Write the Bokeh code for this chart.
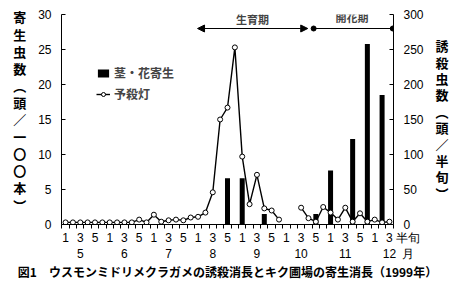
import math
from bokeh.plotting import figure
from bokeh.models import (Range1d, LinearAxis, FixedTicker, Label, Arrow, NormalHead,
                          Legend, LegendItem)
from bokeh.embed import file_html
from bokeh.resources import INLINE

# ---- data ----
months = ["5", "6", "7", "8", "9", "10", "11", "12"]
n_periods = 45  # May 1st half-decade ... Dec 3rd
nan = float("nan")
# light-trap catch (heads / half-decade), right axis
trap = [3, 3, 3, 3, 3, 3,
        3, 3, 3, 3, 7, 3,
        14, 4, 6, 7, 6, 10,
        11, 17, 46, 150, 167, 253,
        97, 29, 71, 23, 20, 7,
        nan, nan, 24, 9, 4, 25,
        17, 7, 24, 4, 16, 4,
        7, 3, 4]
# parasitism on stems/flowers (heads / 100 plants), left axis
parasite = [0, 0, 0, 0, 0, 0,
            0, 0, 0, 0, 0, 0,
            0, 0, 0, 0, 0, 0,
            0, 0, 0, 0, 6.6, 0,
            6.6, 0, 0, 1.5, 0, 0,
            0, 0, 0, 0, 1.5, 0,
            7.7, 0, 0, 12.2, 0, 25.8,
            0, 18.5, 0]
left_ticks = [0, 5, 10, 15, 20, 25, 30]
right_ticks = [0, 50, 100, 150, 200, 250, 300]
left_label = "寄生虫数︵頭／一〇〇本︶"
right_label = "誘殺虫数︵頭／半旬︶"
period_unit = "半旬"
month_unit = "月"
title_text = "図1　ウスモンミドリメクラガメの誘殺消長とキク圃場の寄生消長（1999年）"

x = list(range(n_periods))
JP = "Noto Sans CJK JP"
LAT = "Liberation Sans"

p = figure(width=465, height=286, x_range=Range1d(-0.55, 44.55), y_range=Range1d(0, 30),
           output_backend="svg", toolbar_location=None,
           x_axis_location=None, y_axis_location=None,
           min_border_left=61, min_border_right=72, min_border_top=14, min_border_bottom=62)
p.extra_y_ranges = {"right": Range1d(0, 300)}
p.outline_line_color = None
p.xgrid.visible = False
p.ygrid.visible = False
p.background_fill_color = "white"

# ---- axes ----
end_tick = 44.5
label_ticks = [i for i in x if i % 6 in (0, 2, 4)]
bounds = [i - 0.5 for i in range(n_periods + 1)]
period_over = {i: str(i % 6 + 1) for i in label_ticks}
period_over[end_tick] = "\u3000\u3000\u2002" + period_unit
xa = LinearAxis(ticker=FixedTicker(ticks=label_ticks + [end_tick], minor_ticks=bounds),
                major_label_overrides=period_over,
                major_tick_in=0, major_tick_out=0, minor_tick_in=0, minor_tick_out=4,
                minor_tick_line_color="black", major_label_standoff=2,
                major_label_text_font=LAT, major_label_text_font_size="12px",
                major_label_text_color="black", axis_line_color="black")
p.add_layout(xa, "below")
month_ticks = [m * 6 + 2 for m in range(len(months))]
month_over = {t: months[k] for k, t in enumerate(month_ticks)}
month_over[end_tick] = "\u3000\u3000\u2002" + month_unit
xm = LinearAxis(ticker=FixedTicker(ticks=month_ticks + [end_tick], minor_ticks=[]),
                major_label_overrides=month_over,
                major_tick_line_color=None, minor_tick_line_color=None, axis_line_color=None,
                major_label_standoff=-7, major_label_text_font=LAT,
                major_label_text_font_size="12px", major_label_text_color="black",
                axis_label=title_text, axis_label_standoff=-1,
                axis_label_text_font=JP, axis_label_text_font_style="bold",
                axis_label_text_font_size="12px", axis_label_text_color="black")
p.add_layout(xm, "below")

ya = LinearAxis(ticker=FixedTicker(ticks=left_ticks, minor_ticks=[]),
                major_tick_in=4, major_tick_out=0, major_label_standoff=10,
                major_label_text_font=LAT, major_label_text_font_size="12px",
                major_label_text_color="black", axis_line_color="black",
                axis_label="\n".join(left_label) + "\n", axis_label_orientation="horizontal",
                axis_label_standoff=9, axis_label_text_font=JP,
                axis_label_text_font_style="bold", axis_label_text_font_size="13px",
                axis_label_text_line_height=0.9, axis_label_text_color="black")
p.add_layout(ya, "left")
yb = LinearAxis(y_range_name="right", ticker=FixedTicker(ticks=right_ticks, minor_ticks=[]),
                major_tick_in=4, major_tick_out=0, major_label_standoff=10,
                major_label_text_font=LAT, major_label_text_font_size="12px",
                major_label_text_color="black", axis_line_color="black",
                axis_label="\n".join(right_label), axis_label_orientation="horizontal",
                axis_label_standoff=9, axis_label_text_font=JP,
                axis_label_text_font_style="bold", axis_label_text_font_size="13px",
                axis_label_text_line_height=0.86, axis_label_text_color="black")
p.add_layout(yb, "right")

# ---- glyphs ----
bx = [xi for xi, v in zip(x, parasite) if v > 0]
bv = [v for v in parasite if v > 0]
bars = p.vbar(x=bx, top=bv, width=0.68, fill_color="black", line_color=None)
ln = p.line(x, trap, y_range_name="right", line_color="black", line_width=1.4)
pts = p.scatter(x, trap, y_range_name="right", size=5, marker="circle",
                fill_color="white", line_color="black", line_width=1)

legend = Legend(items=[LegendItem(label="茎・花寄生", renderers=[bars]),
                       LegendItem(label="予殺灯", renderers=[ln, pts])],
                location=(35, 122), padding=0, margin=0, spacing=4,
                border_line_color=None, background_fill_alpha=0,
                glyph_width=14, glyph_height=10, label_standoff=4,
                label_text_font=JP, label_text_font_style="bold",
                label_text_font_size="12px")
p.add_layout(legend, "center")

# ---- growth / flowering periods ----
p.add_layout(Arrow(x_start=17.93, y_start=28, x_end=32.9, y_end=28,
                   start=NormalHead(size=7, fill_color="black", line_color="black"),
                   end=NormalHead(size=7, fill_color="black", line_color="black"),
                   line_color="black", line_width=1.2))
p.add_layout(Arrow(x_start=33.7, y_start=28, x_end=44.45, y_end=28, end=None,
                   line_color="black", line_width=1.2))
p.scatter([33.7, 44.45], [28, 28], size=5, marker="circle", fill_color="black", line_color="black")
p.add_layout(Label(x=25.4, y=29.3, text="生育期", text_align="center", text_baseline="middle",
                   text_font=JP, text_font_style="bold", text_font_size="11px"))
p.add_layout(Label(x=38.9, y=29.6, text="開花期", text_align="center", text_baseline="middle",
                   text_font=JP, text_font_style="bold", text_font_size="11px"))

open("out.html", "w").write(file_html(p, INLINE))
